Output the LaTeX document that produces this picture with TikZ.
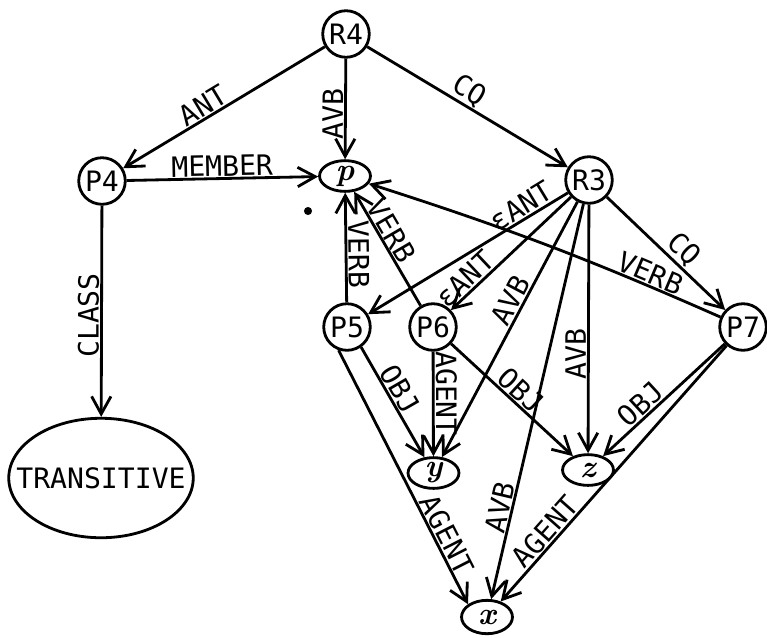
\documentclass[tikz,border=0pt]{standalone}
\usepackage{fontspec}
\newfontfamily\lettering{DejaVu Sans Mono}
\usetikzlibrary{arrows.meta,shapes.geometric}

\begin{document}
\begin{tikzpicture}[x=0.02cm,y=-0.02cm,line width=1.6pt,
  font=\lettering\fontsize{16}{18}\selectfont,
  prop/.style={draw,circle,minimum size=26.5pt,inner sep=0pt},
  var/.style={draw,ellipse,minimum width=29pt,minimum height=17.5pt,inner sep=0pt,
    font=\rmfamily\bfseries\itshape\fontsize{18}{20}\selectfont},
  rel/.style={-{Straight Barb[length=10pt,width=11pt]}},
  lab/.style={sloped,above,inner sep=0.6pt}]
\useasboundingbox (0,0) rectangle (767,637);
\node[prop] (R4) at (346,34) {R4};
\node[prop] (P4) at (102,181) {P4};
\node[var] (p) at (345,176) {p};
\node[prop] (R3) at (589,180) {R3};
\node[prop] (P5) at (347,327) {P5};
\node[prop] (P6) at (433,327) {P6};
\node[prop] (P7) at (743,327) {P7};
\node[var] (y) at (433.5,473) {y};
\node[var] (z) at (588,470) {z};
\node[var,minimum height=19pt] (x) at (487,617) {x};
\node[draw,ellipse,minimum width=105pt,minimum height=68pt,inner xsep=-14pt,inner ysep=0pt] (trans) at (101,478) {TRANSITIVE};
\draw[rel] (R4) -- node[lab,pos=0.57] {ANT} (P4);
\draw[rel] (R4) -- node[lab,pos=0.55] {AVB} (p);
\draw[rel] (R4) -- node[lab,pos=0.47] {CQ} (R3);
\draw[rel] (P4) -- node[lab,pos=0.5] {MEMBER} (p);
\draw[rel] (P4) -- node[lab,pos=0.52] {CLASS} (trans);
\draw[rel] (R3) -- node[lab,pos=0.2] {εANT} (P5);
\draw[rel] (R3) -- node[lab,pos=0.81] {εANT} (P6);
\draw[rel] (R3) -- node[lab,pos=0.41] {AVB} (y);
\draw[rel] (R3) -- node[lab,pos=0.6] {AVB} (z);
\draw[rel] (R3) -- node[lab,pos=0.775] {AVB} (x);
\draw[rel] (R3) -- node[lab,pos=0.56] {CQ} (P7);
\draw[rel] (P5) -- node[lab,pos=0.44] {VERB} (p);
\draw[rel] (P6) -- node[lab,pos=0.6] {VERB} (p);
\draw[rel] (P7) to[bend right=3] node[lab,pos=0.2] {VERB} (p);
\draw[rel] (P5.-55) -- node[lab,pos=0.44] {OBJ} (y);
\draw[rel] (P5.-110) -- node[lab,pos=0.75] {AGENT} (x.north west);
\draw[rel] (P6) -- node[lab,pos=0.4] {AGENT} (y);
\draw[rel] (P6) -- node[lab,pos=0.5] {OBJ} (z);
\draw[rel] (P7) -- node[lab,pos=0.62] {OBJ} (z);
\draw[rel] (P7) -- node[lab,pos=0.76] {AGENT} (x);
\fill (308,211) circle[radius=2.3pt];
\end{tikzpicture}
\end{document}
